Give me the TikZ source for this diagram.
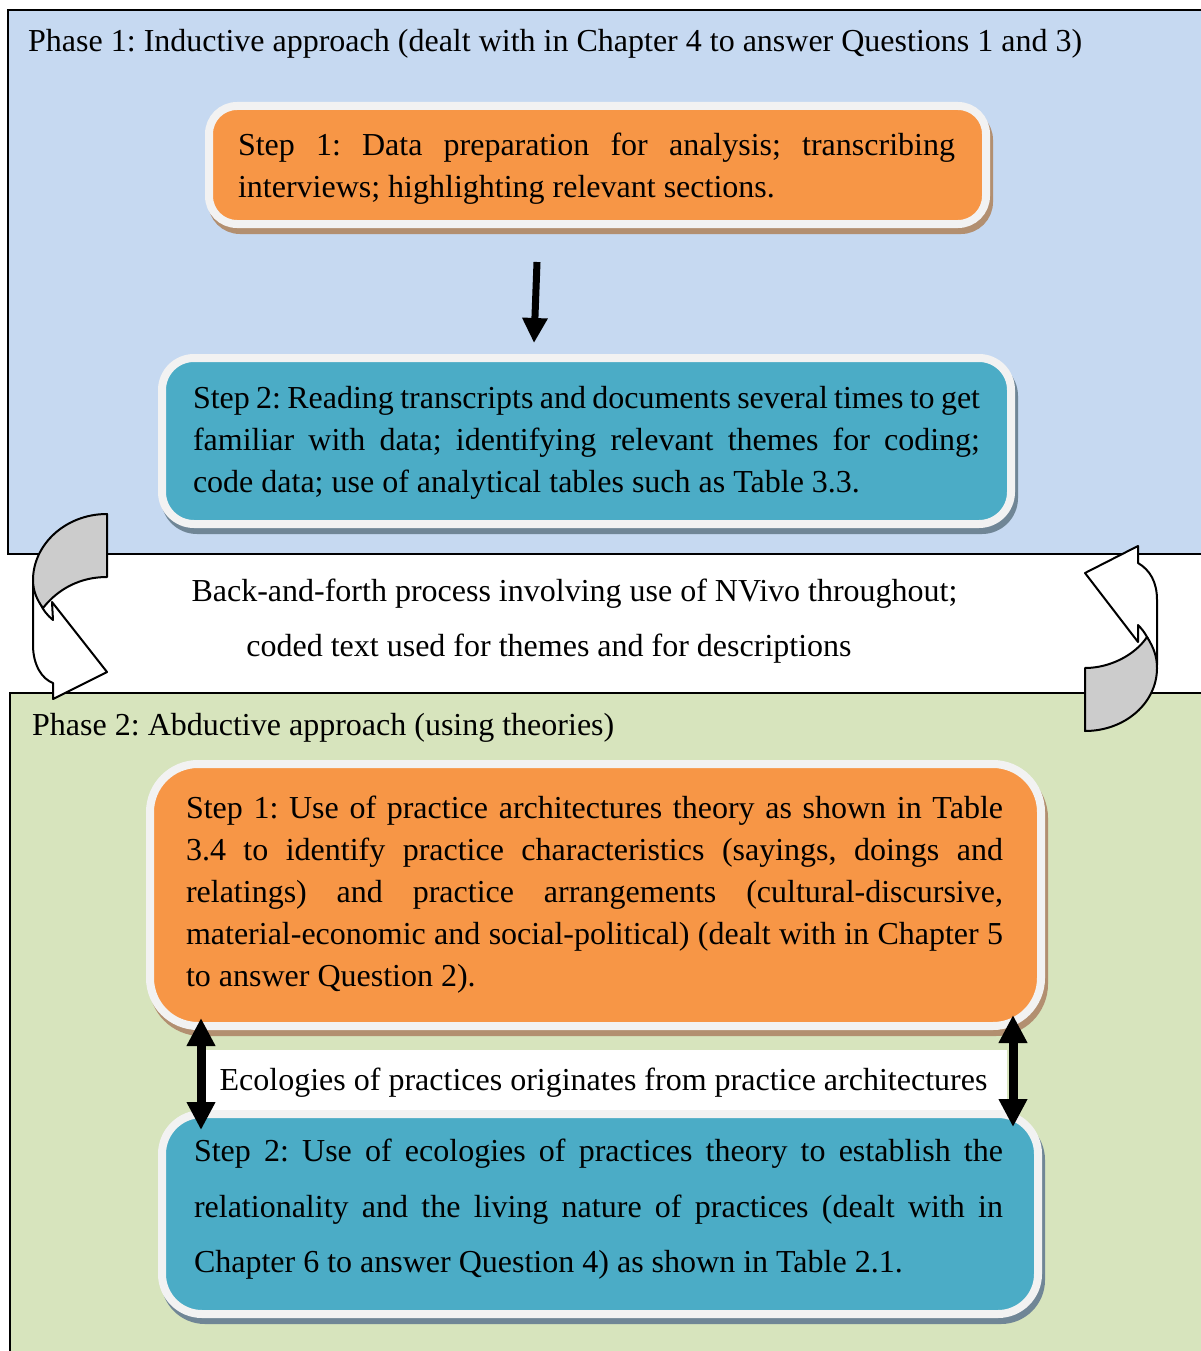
\documentclass[tikz,border=0pt]{standalone}
\usepackage{fontspec}
\setmainfont{Liberation Serif}
\usetikzlibrary{arrows.meta,shadows}
\frenchspacing

\definecolor{phaseoneblue}{RGB}{198,217,241}
\definecolor{phasetwogreen}{RGB}{215,228,189}
\definecolor{steporange}{RGB}{247,150,70}
\definecolor{stepblue}{RGB}{75,172,198}
\definecolor{boxrim}{RGB}{242,242,242}
\definecolor{orangeshade}{RGB}{178,143,112}
\definecolor{blueshade}{RGB}{112,134,150}
\definecolor{curlgrey}{RGB}{204,204,204}

\tikzset{
  phasebox/.style={draw=black, line width=2.5pt},
  stepbox/.style={draw=boxrim, line width=8pt, inner sep=0pt},
  orangestep/.style={stepbox, fill=steporange,
    general shadow={shadow xshift=3pt, shadow yshift=-6pt, fill=orangeshade,
      draw=orangeshade, line width=8pt}},
  bluestep/.style={stepbox, fill=stepblue,
    general shadow={shadow xshift=3pt, shadow yshift=-6pt, fill=blueshade,
      draw=blueshade, line width=8pt}},
  steptext/.style={inner sep=0pt, align=justify, font=\fontsize{32}{42}\selectfont},
  plaintext/.style={inner sep=0pt, font=\fontsize{32}{42}\selectfont},
  flowarrow/.style={line width=7pt, -{Triangle[length=25pt,width=24pt]}},
  linkarrow/.style={line width=9pt,
    {Triangle[length=28pt,width=27pt]}-{Triangle[length=28pt,width=27pt]}},
  curl/.style={draw=black, line width=2pt, line join=round},
}

\begin{document}
\begin{tikzpicture}[x=1pt,y=-1pt]
\useasboundingbox (0,0) rectangle (1201,1351);
\hyphenpenalty=10000 \exhyphenpenalty=10000

% phase panels
\fill[phaseoneblue] (8,10) rectangle (1215,554);
\draw[phasebox] (1215,10) -- (8,10) -- (8,554) -- (1215,554);
\fill[phasetwogreen] (10,693) rectangle (1215,1365);
\draw[phasebox] (1215,693) -- (10,693) -- (10,1365);

\node[plaintext, anchor=west] (ph1) at (28,44)
  {Phase 1: Inductive approach (dealt with in Chapter 4 to answer Questions 1 and 3)};
\node[plaintext, anchor=west] (ph2) at (32,728)
  {Phase 2: Abductive approach (using theories)};

% link band between the two theory steps
\node[fill=white, minimum width=807pt, minimum height=62pt, inner sep=0pt] (band)
  at (603.5,1081) {};
\node[plaintext] (bandtext) at ([yshift=-2pt]band.center)
  {Ecologies of practices originates from practice architectures};

% step boxes
\node[orangestep, rounded corners=28pt, minimum width=777pt, minimum height=118pt]
  (s1) at (597.5,165) {};
\node[bluestep, rounded corners=32pt, minimum width=849pt, minimum height=166pt]
  (s2) at (586.5,441) {};
\node[orangestep, rounded corners=48pt, minimum width=891pt, minimum height=262pt]
  (s3) at (595.5,895) {};
\node[bluestep, rounded corners=40pt, minimum width=876pt, minimum height=200pt]
  (s4) at (600,1214) {};

% step texts
\node[steptext, text width=717pt] (s1t) at ([xshift=-1pt,yshift=-4pt]s1.center)
  {Step 1: Data preparation for analysis; transcribing\linebreak
   interviews; highlighting relevant sections.};
\node[steptext, text width=787pt] (s2t) at ([yshift=-2pt]s2.center)
  {Step 2: Reading transcripts and documents several times to get\linebreak
   familiar with data; identifying relevant themes for coding;\linebreak
   code data; use of analytical tables such as Table 3.3.};
\node[steptext, text width=817pt] (s3t) at ([xshift=-1pt]s3.center)
  {Step 1: Use of practice architectures theory as shown in Table\linebreak
   3.4 to identify practice characteristics (sayings, doings and\linebreak
   relatings) and practice arrangements (cultural-discursive,\linebreak
   material-economic and social-political) (dealt with in Chapter 5\linebreak
   to answer Question 2).};
\node[steptext, text width=809pt, font=\fontsize{32}{55.5}\selectfont] (s4t)
  at ([xshift=-1.5pt,yshift=4.5pt]s4.center)
  {Step 2: Use of ecologies of practices theory to establish the\linebreak
   relationality and the living nature of practices (dealt with in\linebreak
   Chapter 6 to answer Question 4) as shown in Table 2.1.};

% arrows between steps
\draw[flowarrow] ([xshift=-60.5pt,yshift=-34pt]s1.south) -- ([xshift=-52.5pt,yshift=11pt]s2.north);
\draw[linkarrow] ([xshift=-394.5pt,yshift=12pt]s3.south) -- ([xshift=-399pt,yshift=-20pt]s4.north);
\draw[linkarrow] ([xshift=417.5pt,yshift=15pt]s3.south) -- ([xshift=413pt,yshift=-17pt]s4.north);

% back-and-forth text
\node[plaintext] (bf1) at (574.5,594)
  {Back-and-forth process involving use of NVivo throughout;};
\node[plaintext] (bf2) at (549,649)
  {coded text used for themes and for descriptions};

% left curled arrow (downwards)
\draw[curl, fill=white] (33,578) -- (33,645) .. controls (33,665) and (42,679) .. (53,683)
  -- (53,699) -- (107,672) -- (52,602) -- (53,620)
  .. controls (47,615) and (43,610) .. (40,603) -- cycle;
\draw[curl, fill=curlgrey] (107,514) .. controls (65,514) and (33,545) .. (33,580)
  .. controls (33,591) and (37,600) .. (43,608)
  .. controls (58,589) and (80,577) .. (107,577) -- cycle;

% right curled arrow (upwards)
\draw[curl, fill=white] (1138,546) -- (1085,573) -- (1138,642) -- (1138,625)
  .. controls (1145,632) and (1151,641) .. (1157,665)
  -- (1157,600) .. controls (1157,582) and (1150,570) .. (1138,563) -- cycle;
\draw[curl, fill=curlgrey] (1085,668) .. controls (1110,668) and (1135,655) .. (1147,637)
  .. controls (1154,648) and (1157,657) .. (1157,668)
  .. controls (1157,703) and (1125,731) .. (1085,731) -- cycle;
\end{tikzpicture}
\end{document}
